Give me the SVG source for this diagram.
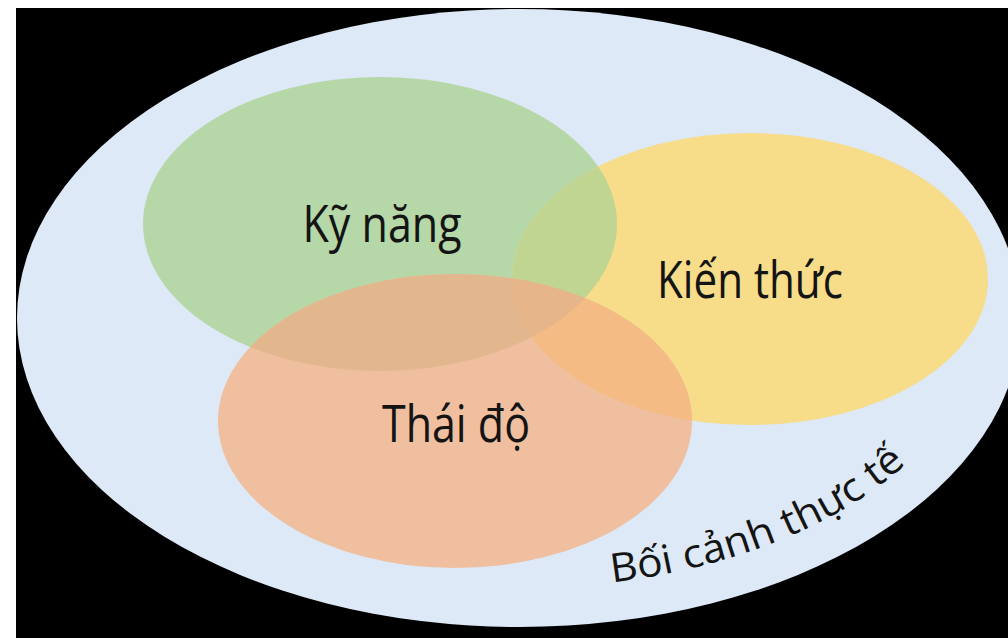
<svg xmlns="http://www.w3.org/2000/svg" width="1008" height="638" viewBox="0 0 1008 638">
  <style>
    .lbl { font-family: "Open Sans", "Noto Sans", sans-serif; font-size: 52px; fill: #141414; text-anchor: middle; }
    .ctx { font-family: "Open Sans", "Noto Sans", sans-serif; font-size: 40px; fill: #141414; }
  </style>
  <defs>
    <clipPath id="cG"><ellipse cx="380" cy="224" rx="237" ry="147"/></clipPath>
    <clipPath id="cY"><ellipse cx="750" cy="279" rx="238" ry="146"/></clipPath>
    <clipPath id="cO"><ellipse cx="455" cy="421" rx="237" ry="147"/></clipPath>
    <path id="ctxPath" d="M 612 582.4 A 460 270 0 0 0 979 318"/>
  </defs>
  <rect x="0" y="0" width="1008" height="638" fill="#ffffff"/>
  <rect x="16" y="8" width="992" height="630" fill="#000000"/>
  <g id="context">
    <ellipse cx="519" cy="318" rx="502" ry="309" fill="#dde9f6"/>
    <text class="ctx"><textPath href="#ctxPath" textLength="322" lengthAdjust="spacingAndGlyphs">Bối cảnh thực tế</textPath></text>
  </g>
  <g id="skills">
    <ellipse cx="380" cy="224" rx="237" ry="147" fill="#b6d7a8"/>
  </g>
  <g id="knowledge">
    <ellipse cx="750" cy="279" rx="238" ry="146" fill="#f7dc8a"/>
  </g>
  <g id="attitude">
    <ellipse cx="455" cy="421" rx="237" ry="147" fill="#efbf9f"/>
  </g>
  <g id="overlaps">
    <ellipse cx="750" cy="279" rx="238" ry="146" fill="#bfd591" clip-path="url(#cG)"/>
    <ellipse cx="455" cy="421" rx="237" ry="147" fill="#f4bc84" clip-path="url(#cY)"/>
    <ellipse cx="455" cy="421" rx="237" ry="147" fill="#e3b78d" clip-path="url(#cG)"/>
    <g clip-path="url(#cG)">
      <ellipse cx="455" cy="421" rx="237" ry="147" fill="#e6b589" clip-path="url(#cY)"/>
    </g>
  </g>
  <g id="labels">
    <text class="lbl" x="382" y="242" textLength="159" lengthAdjust="spacingAndGlyphs">Kỹ năng</text>
    <text class="lbl" x="750" y="298" textLength="186" lengthAdjust="spacingAndGlyphs">Kiến thức</text>
    <text class="lbl" x="456" y="442" textLength="148" lengthAdjust="spacingAndGlyphs">Thái độ</text>
  </g>
</svg>
